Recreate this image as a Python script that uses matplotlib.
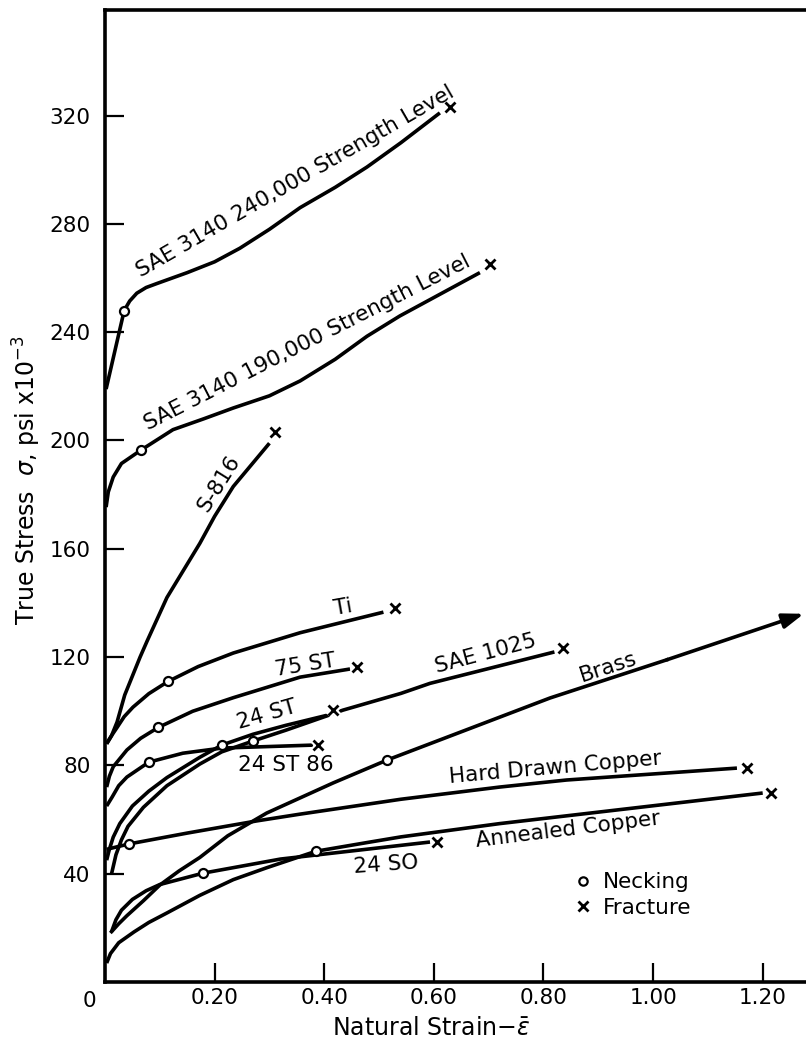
import matplotlib
matplotlib.use('Agg')
import matplotlib.pyplot as plt
import matplotlib.patheffects as pe
from matplotlib.lines import Line2D

# ---------------- data ----------------
sae240_strain = [0.002, 0.035, 0.045, 0.058, 0.075, 0.095, 0.15, 0.20, 0.246, 0.30, 0.356, 0.42, 0.478, 0.54, 0.611]
sae240_stress = [219, 248, 251.5, 254.4, 256.5, 258, 262, 266, 271, 278, 286, 293.5, 301, 310, 321]

sae190_strain = [0.002, 0.006, 0.015, 0.03, 0.066, 0.124, 0.18, 0.234, 0.30, 0.356, 0.42, 0.478, 0.538, 0.684]
sae190_stress = [175.4, 181, 186.5, 191.5, 196.5, 204, 208, 212, 216.5, 222, 230, 238.5, 246, 262]

s816_strain = [0.003, 0.012, 0.022, 0.036, 0.05, 0.064, 0.077, 0.095, 0.113, 0.14, 0.173, 0.20, 0.234, 0.30]
s816_stress = [88, 91, 96, 106, 113, 120, 126, 134, 142, 151, 162, 172, 183, 199]

ti_strain = [0.003, 0.012, 0.022, 0.035, 0.051, 0.08, 0.115, 0.17, 0.234, 0.356, 0.508]
ti_stress = [88, 91, 94, 98, 101.5, 106.5, 111, 116.5, 121.5, 129, 136.6]

st75_strain = [0.003, 0.008, 0.015, 0.04, 0.065, 0.097, 0.16, 0.234, 0.356, 0.447]
st75_stress = [72, 76, 79.5, 85.7, 90, 94, 100, 105, 112.6, 115.6]

st24_86_strain = [0.003, 0.013, 0.025, 0.04, 0.08, 0.142, 0.213, 0.38]
st24_86_stress = [65, 68.3, 72.5, 75.7, 81.2, 84.5, 86.4, 87.5]

st24_strain = [0.003, 0.008, 0.015, 0.027, 0.05, 0.08, 0.113, 0.173, 0.213, 0.27, 0.33, 0.405]
st24_stress = [45, 49, 53.5, 58.5, 65, 70.5, 75.5, 83, 87.5, 91.5, 94.8, 98.5]

sae1025_strain = [0.012, 0.02, 0.03, 0.042, 0.07, 0.113, 0.173, 0.213, 0.27, 0.33, 0.405, 0.434, 0.54, 0.593, 0.82]
sae1025_stress = [40, 47, 52.5, 57.5, 64.5, 72.5, 80.5, 85, 89, 93, 98.3, 100.4, 106.6, 110.3, 121.9]

brass_strain = [0.012, 0.025, 0.04, 0.07, 0.10, 0.135, 0.173, 0.224, 0.295, 0.416, 0.515, 0.812, 1.025, 1.275]
brass_stress = [18.6, 21.5, 24.5, 30, 35.8, 41, 46, 54, 62.4, 73.5, 82, 104.9, 119, 136]

hdc_strain = [0.003, 0.044, 0.15, 0.277, 0.356, 0.54, 0.72, 0.842, 1.153]
hdc_stress = [49, 51, 55, 59.5, 62, 67.5, 72, 74.6, 79]

ann_strain = [0.003, 0.01, 0.025, 0.053, 0.08, 0.113, 0.173, 0.234, 0.295, 0.385, 0.478, 0.54, 0.72, 1.2]
ann_stress = [7, 10.5, 14.5, 18.5, 22, 25.5, 32, 37.8, 42.2, 48.3, 51.5, 53.6, 58.5, 69.8]

so24_strain = [0.012, 0.02, 0.03, 0.05, 0.075, 0.10, 0.179, 0.32, 0.593]
so24_stress = [18.6, 23, 26.5, 30.5, 33.7, 36, 40.2, 45.4, 51.7]

necking_strain = [0.035, 0.066, 0.115, 0.097, 0.08, 0.213, 0.27, 0.515, 0.044, 0.385, 0.179]
necking_stress = [248, 196.5, 111, 94, 81.2, 87.5, 89, 82, 51, 48.3, 40.2]

fracture_strain = [0.63, 0.703, 0.31, 0.529, 0.46, 0.416, 0.389, 0.836, 1.172, 1.215, 0.606]
fracture_stress = [323.1, 265.1, 203.1, 138.1, 116.3, 100.4, 87.5, 123.3, 79.0, 69.8, 51.7]

x_ticks = [0.20, 0.40, 0.60, 0.80, 1.00, 1.20]
x_tick_labels = ['0.20', '0.40', '0.60', '0.80', '1.00', '1.20']
y_ticks = [40, 80, 120, 160, 200, 240, 280, 320]
y_tick_labels = ['40', '80', '120', '160', '200', '240', '280', '320']

labels = ['SAE 3140 240,000 Strength Level', 'SAE 3140 190,000 Strength Level',
          'S-816', 'Ti', '75 ST', '24 ST', '24 ST 86', 'SAE 1025', 'Brass',
          'Hard Drawn Copper', 'Annealed Copper', '24 SO']
# ---------------------------------------------------------------

FS = 15.5
LW = 2.6

fig = plt.figure(figsize=(8.06, 10.41), dpi=100)
ax = fig.add_axes([105 / 806, 59 / 1041, 701 / 806, 972 / 1041])
ax.set_xlim(0, 1.279)
ax.set_ylim(0, 359)

for side in ['left', 'bottom', 'top']:
    ax.spines[side].set_linewidth(2.6)
ax.spines['right'].set_visible(False)

ax.set_xticks(x_ticks)
ax.set_xticklabels(x_tick_labels)
ax.set_yticks(y_ticks)
ax.set_yticklabels(y_tick_labels)
ax.tick_params(axis='both', direction='in', length=14, width=1.6, labelsize=FS)
ax.tick_params(axis='x', pad=4.5)
ax.tick_params(axis='y', pad=10.5)
ax.text(-0.028, -7, '0', fontsize=FS, ha='center', va='center', clip_on=False)

curves = [
    (sae240_strain, sae240_stress),
    (sae190_strain, sae190_stress),
    (s816_strain, s816_stress),
    (ti_strain, ti_stress),
    (st75_strain, st75_stress),
    (st24_86_strain, st24_86_stress),
    (st24_strain, st24_stress),
    (sae1025_strain, sae1025_stress),
    (hdc_strain, hdc_stress),
    (ann_strain, ann_stress),
    (so24_strain, so24_stress),
]
for xs, ys in curves:
    ax.plot(xs, ys, color='k', lw=LW, solid_joinstyle='round', solid_capstyle='butt', zorder=3)

# brass with arrow at the end
ax.plot(brass_strain[:-1], brass_stress[:-1], color='k', lw=LW, solid_joinstyle='round', zorder=3)
ax.annotate('', xy=(brass_strain[-1], brass_stress[-1]),
            xytext=(brass_strain[-2], brass_stress[-2]),
            arrowprops=dict(arrowstyle='-|>,head_length=0.9,head_width=0.32', mutation_scale=14,
                            color='k', lw=LW, shrinkA=0, shrinkB=0), zorder=3)

ax.plot(fracture_strain, fracture_stress, ls='none', marker='x', ms=7, mew=2.0, color='k', zorder=5,
        path_effects=[pe.Stroke(linewidth=5, foreground='white'), pe.Normal()])
ax.plot(necking_strain, necking_stress, ls='none', marker='o', ms=6.5, mfc='white', mec='k', mew=1.6,
        zorder=6)

# curve labels
label_pos = [
    (0.347, 295.8, 30), (0.3695, 236.2, 27), (0.208, 184.3, 58), (0.435, 138.5, 10),
    (0.365, 117.1, 9), (0.296, 98.6, 16), (0.330, 80.1, 0), (0.695, 121.1, 15),
    (0.918, 116.3, 18), (0.821, 79.0, 5), (0.845, 56.1, 7), (0.513, 43.2, 4),
]
for s, (x, y, r) in zip(labels, label_pos):
    ax.text(x, y, s, fontsize=FS, rotation=r, ha='center', va='center', rotation_mode='anchor', zorder=4)

handles = [Line2D([], [], ls='none', marker='o', ms=6, mfc='white', mec='k', mew=1.6),
           Line2D([], [], ls='none', marker='x', ms=7, mew=2.0, color='k')]
ax.legend(handles, ['Necking', 'Fracture'], loc='upper left', bbox_to_anchor=(0.667, 0.113),
          frameon=False, borderpad=0, borderaxespad=0, handlelength=1.0, handletextpad=0.4,
          labelspacing=0.25, fontsize=FS)

ax.set_xlabel(r'Natural Strain$-\bar{\varepsilon}$', fontsize=17)
ax.xaxis.set_label_coords(0.466, -0.047)
ax.xaxis.label.set_va('center')
ax.set_ylabel(r'True Stress  $\sigma$, psi x10$^{-3}$', fontsize=17)
ax.yaxis.set_label_coords(-0.111, 0.516)
ax.yaxis.label.set_va('center')

fig.savefig('out.png', dpi=100)
